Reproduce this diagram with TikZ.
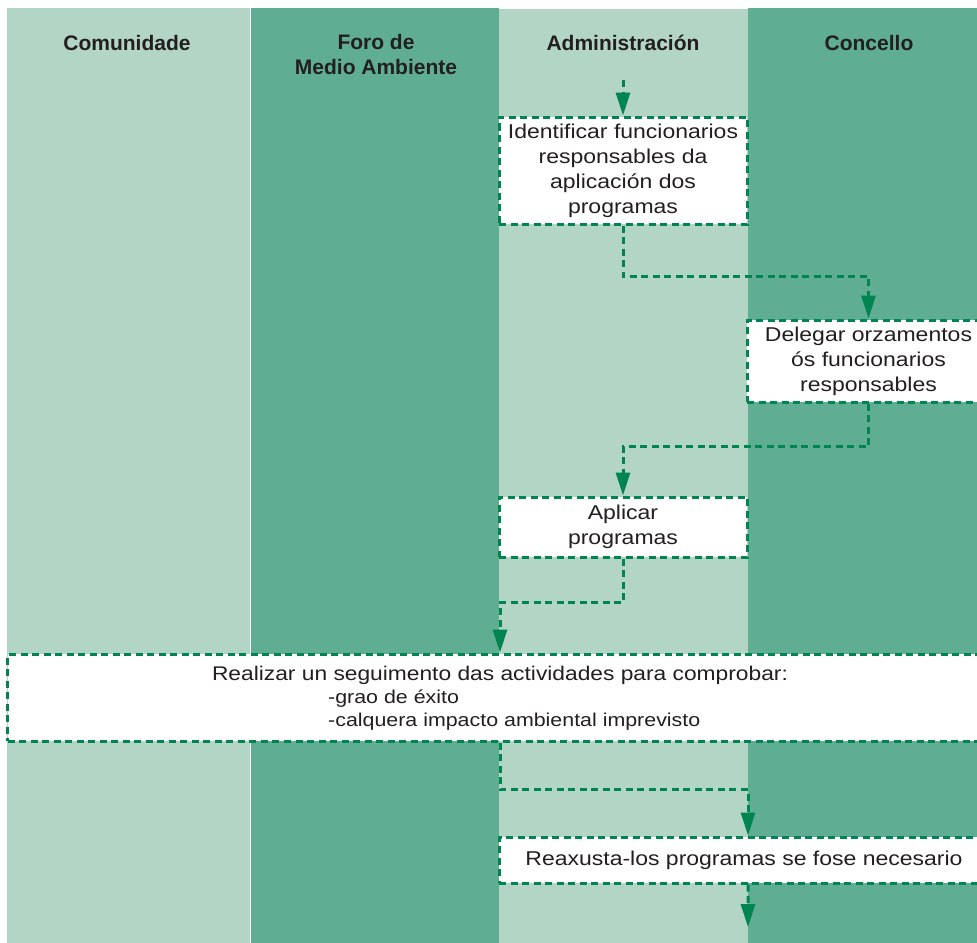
\documentclass[tikz,border=0pt]{standalone}
\usepackage{fontspec}
\setmainfont{Liberation Sans}
\newfontfamily\bodyfont[FakeStretch=1.15]{Liberation Sans}
\usetikzlibrary{arrows.meta}
\definecolor{lanelight}{RGB}{178,213,198}
\definecolor{lanedark}{RGB}{95,173,147}
\definecolor{flowgreen}{RGB}{0,132,80}
\definecolor{ink}{RGB}{35,31,32}

\begin{document}
\begin{tikzpicture}[x=1bp,y=-1bp,
  header/.style={font=\bfseries\fontsize{21bp}{25bp}\selectfont, text=ink,
    inner sep=0pt, align=center},
  stepbox/.style={draw=flowgreen, fill=white, line width=3bp,
    dash pattern=on 7bp off 4.5bp, inner sep=0pt, align=center, text=ink,
    font=\bodyfont\fontsize{20bp}{25bp}\selectfont},
  bodytext/.style={text=ink, inner sep=0pt,
    font=\bodyfont\fontsize{19.8bp}{25bp}\selectfont},
  subtext/.style={text=ink, inner sep=0pt,
    font=\bodyfont\fontsize{18.6bp}{23bp}\selectfont},
  flow/.style={draw=flowgreen, line width=3bp, dash pattern=on 7bp off 4.5bp,
    -{Triangle[length=23bp,width=14bp]}}
]
\useasboundingbox (0,0) rectangle (977,943);
\clip (0,0) rectangle (977,943);

% swimlanes
\fill[lanelight] (7,8) rectangle (249.5,943);
\fill[lanedark] (251,8) rectangle (499,943);
\fill[lanelight] (499,9) rectangle (748,943);
\fill[lanedark] (748,8) rectangle (977,943);

% lane headers
\node[header, anchor=base] (hcom) at (127,50) {Comunidade};
\node[header, anchor=north] (hforo) at (376,34.5) {Foro de\\Medio Ambiente};
\node[header, anchor=base] (hadm) at (623,50) {Administración};
\node[header, anchor=base] (hcon) at (869,50) {Concello};

% process steps
\node[stepbox, minimum width=248bp, minimum height=107bp] (b1) at (623,170.5)
  {Identificar funcionarios\\responsables da\\aplicación dos\\programas};
\node[stepbox, minimum width=243bp, minimum height=82bp] (b2) at (868.5,361)
  {Delegar orzamentos\\ós funcionarios\\responsables};
\node[stepbox, minimum width=248bp, minimum height=60bp] (b3) at (623,527)
  {Aplicar\\programas};
\node[stepbox, minimum width=984bp, minimum height=87bp] (b4) at (500,697.5) {};
\node[bodytext, anchor=base] (b4a) at (500,680)
  {Realizar un seguimento das actividades para comprobar:};
\node[subtext, anchor=base west] (b4b) at (328,703) {-grao de éxito};
\node[subtext, anchor=base west] (b4c) at (328,726)
  {-calquera impacto ambiental imprevisto};
\node[stepbox, minimum width=490bp, minimum height=46bp] (b5) at (744,860)
  {Reaxusta-los programas se fose necesario};

% connectors
\coordinate (start) at (623,80);
\coordinate (finish) at (748,927);
\draw[flow] (start) -- (b1.north);
\draw[flow] (b1.south) -- ++(0,51) -| (b2.north);
\draw[flow] (b2.south) -- ++(0,43) -| (b3.north);
\draw[flow] (b3.south) -- ++(0,44) -| (b4.north);
\draw[flow] (b4.south) -- ++(0,47) -| ([xshift=4bp]b5.north);
\draw[flow] ([xshift=4bp]b5.south) -- (finish);
\end{tikzpicture}
\end{document}
